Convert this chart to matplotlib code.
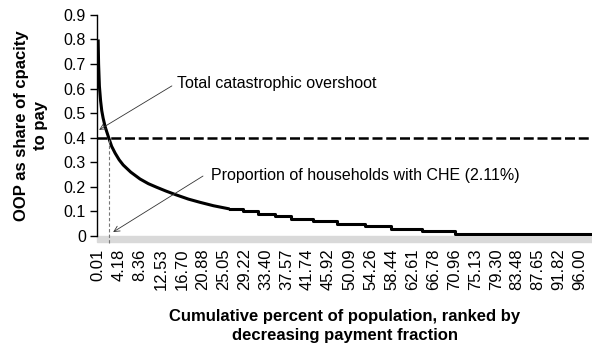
import matplotlib.pyplot as plt
from matplotlib.patches import Rectangle

plt.rcParams['font.family'] = ['Liberation Sans', 'DejaVu Sans']

# smooth head of the curve (cumulative % of population, OOP share)
head_x = [0.01, 0.10, 0.26, 0.5, 0.73, 1.0, 1.4, 2.11, 2.7, 3.4, 4.2, 5.0, 6.5,
          8.35, 10.0, 11.7, 13.5, 15.6, 18.0, 20.3, 23.0, 26.2]
head_y = [0.80, 0.70, 0.61, 0.55, 0.51, 0.48, 0.445, 0.40, 0.365, 0.337, 0.31,
          0.289, 0.26, 0.232, 0.213, 0.198, 0.183, 0.167, 0.15, 0.137, 0.123, 0.110]

# stepped tail
tail_x = [26.2, 28.9, 31.9, 35.2, 38.5, 42.8, 47.5, 53.1, 58.4, 64.5, 71.1, 98.2]
tail_y = [0.11, 0.10, 0.09, 0.08, 0.07, 0.06, 0.05, 0.04, 0.03, 0.02, 0.01, 0.0]

threshold = 0.40
che_share = 2.11

tick_labels = ['0.01', '4.18', '8.36', '12.53', '16.70', '20.88', '25.05', '29.22',
               '33.40', '37.57', '41.74', '45.92', '50.09', '54.26', '58.44', '62.61',
               '66.78', '70.96', '75.13', '79.30', '83.48', '87.65', '91.82', '96.00']

fig = plt.figure(figsize=(5.92, 3.47), dpi=100)
ax = fig.add_axes([0.164, 0.320, 0.836, 0.637])

ax.plot(head_x, head_y, color='black', lw=2.2, solid_capstyle='butt')
ax.plot(tail_x, tail_y, color='black', lw=2.2, drawstyle='steps-post')

ax.axhline(threshold, color='black', lw=1.8, ls=(0, (4, 1.5)))
ax.plot([che_share, che_share], [-0.03, threshold], color='#777777', lw=0.8,
        ls=(0, (3, 2)), clip_on=False)

ax.set_xlim(-0.2, 98.4)
ax.set_ylim(0, 0.9)
ax.set_yticks([0, 0.1, 0.2, 0.3, 0.4, 0.5, 0.6, 0.7, 0.8, 0.9])
ax.set_yticklabels(['0', '0.1', '0.2', '0.3', '0.4', '0.5', '0.6', '0.7', '0.8', '0.9'])
ax.set_xticks([float(t) for t in tick_labels])
ax.set_xticklabels(tick_labels, rotation=90)
ax.tick_params(axis='y', length=5, width=1, labelsize=11.5, pad=3)
ax.tick_params(axis='x', length=0, labelsize=12, pad=9)

for s in ['top', 'right', 'bottom']:
    ax.spines[s].set_visible(False)
ax.spines['left'].set_linewidth(1)

ax.add_patch(Rectangle((0, -0.028), 1, 0.028, transform=ax.transAxes,
                       color='#d9d9d9', clip_on=False, zorder=1))

arrow = dict(arrowstyle='->', color='#333333', lw=0.6, shrinkA=0, shrinkB=0)
ax.annotate('', xy=(0.2, 0.432), xytext=(14.7, 0.611), arrowprops=arrow)
ax.text(15.7, 0.62, 'Total catastrophic overshoot', fontsize=11.5,
        va='center', ha='left')
ax.annotate('', xy=(3.0, 0.016), xytext=(20.9, 0.244), arrowprops=arrow)
ax.text(22.5, 0.248, 'Proportion of households with CHE (2.11%)', fontsize=11.5,
        va='center', ha='left')

ax.set_ylabel('OOP as share of cpacity\nto pay', fontsize=12, fontweight='bold',
              labelpad=11, linespacing=1.4)
ax.set_xlabel('Cumulative percent of population, ranked by\ndecreasing payment fraction',
              fontsize=12, fontweight='bold', labelpad=13, linespacing=1.35)

fig.savefig('out.png', dpi=100)
